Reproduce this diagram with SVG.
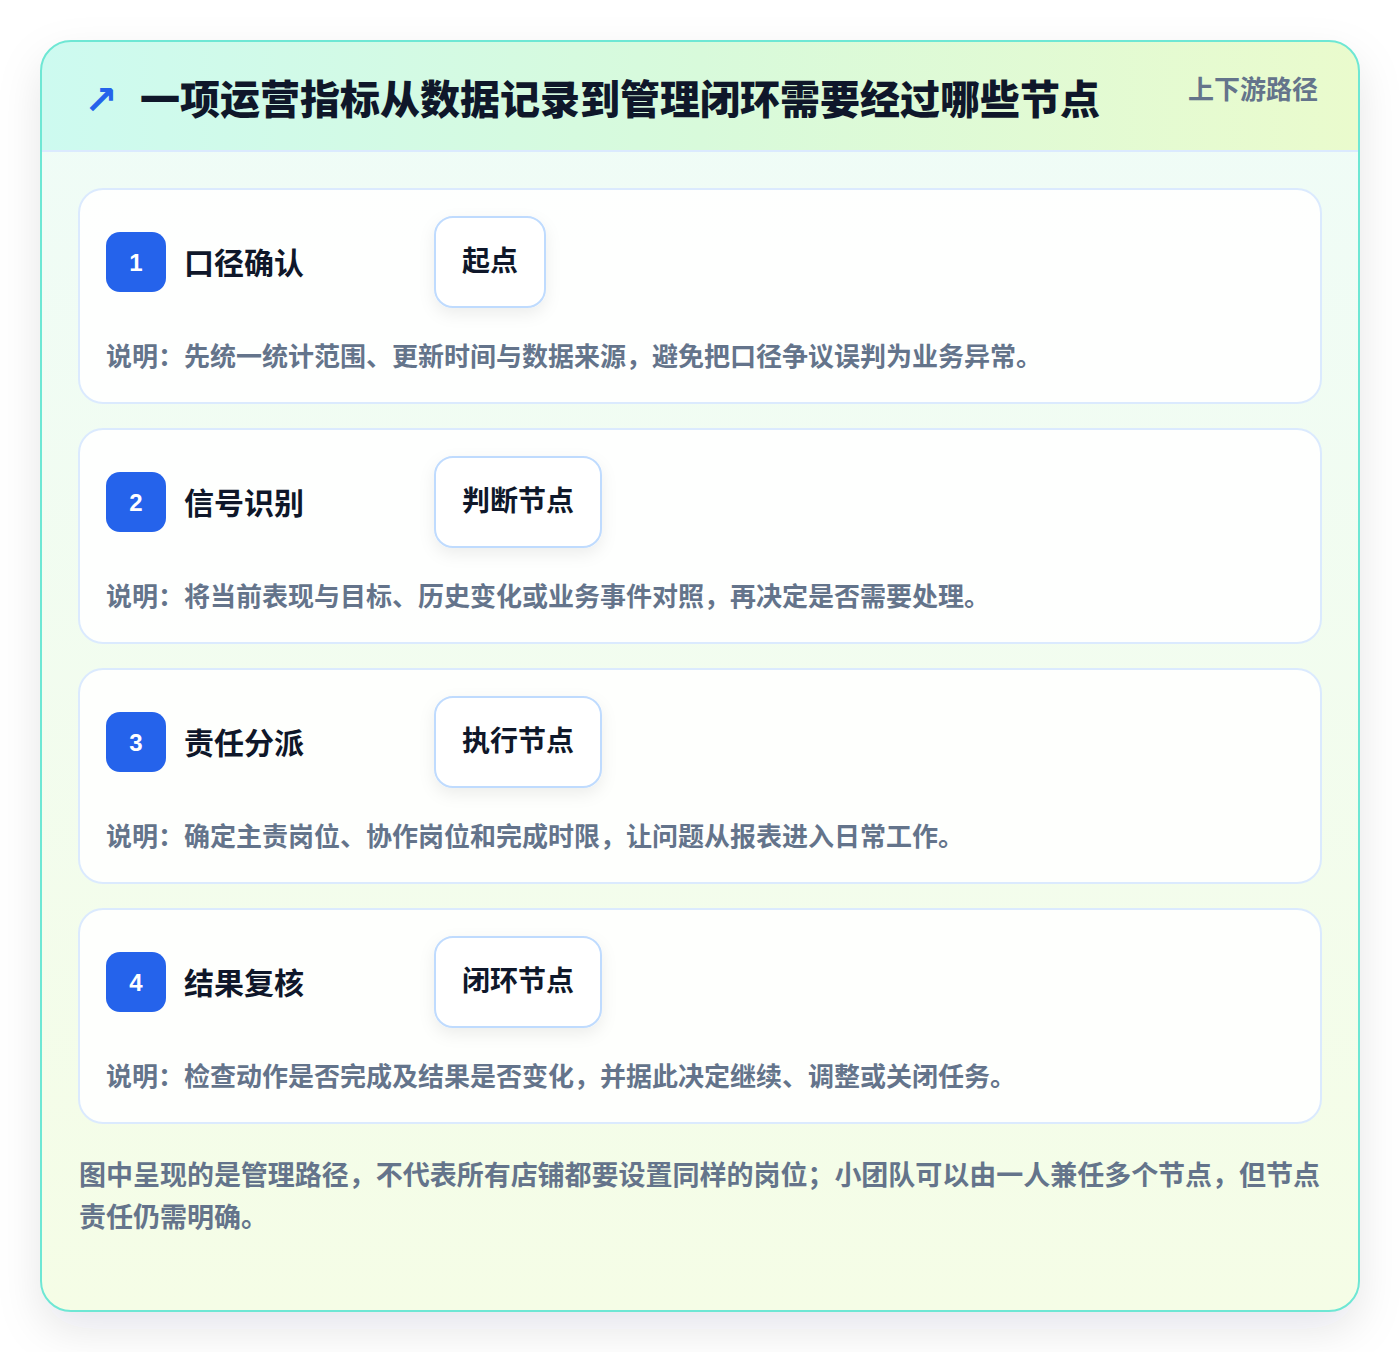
<svg xmlns="http://www.w3.org/2000/svg" width="1400" height="1352" viewBox="0 0 1400 1352">
<defs>
<linearGradient id="hdr" x1="0" y1="0" x2="1" y2="0">
<stop offset="0" stop-color="#cdfaf0"/>
<stop offset="0.5" stop-color="#d8fadb"/>
<stop offset="1" stop-color="#eafbcd"/>
</linearGradient>
<linearGradient id="body" x1="0" y1="0" x2="0" y2="1">
<stop offset="0" stop-color="#effcf8"/>
<stop offset="1" stop-color="#f5fde6"/>
</linearGradient>
<filter id="outerShadow" x="-10%" y="-10%" width="120%" height="125%">
<feDropShadow dx="0" dy="18" stdDeviation="22" flood-color="#0f172a" flood-opacity="0.10"/>
</filter>
<filter id="tagShadow" x="-30%" y="-30%" width="160%" height="180%">
<feDropShadow dx="0" dy="6" stdDeviation="8" flood-color="#0f172a" flood-opacity="0.07"/>
</filter>
<clipPath id="outerClip"><rect x="41" y="41" width="1318" height="1270" rx="30"/></clipPath>
<style>
.cjk{font-family:"Noto Sans CJK SC","Noto Sans",sans-serif;font-weight:700}
.title{font-size:40px;fill:#0f172a;font-weight:900}
.sub{font-size:26px;fill:#64748b}
.card{fill:#ffffff;fill-opacity:0.88;stroke:#dbeafe;stroke-width:2}
.badge{fill:#2563eb}
.num{font-family:"Liberation Sans","Noto Sans",sans-serif;font-weight:700;font-size:24px;fill:#ffffff}
.name{font-size:30px;fill:#0f172a}
.tag{fill:#ffffff;stroke:#bfdbfe;stroke-width:2}
.tagt{font-size:28px;fill:#0f172a}
.desc{font-size:26px;fill:#64748b}
.foot{font-size:27px;fill:#64748b}
</style>
</defs>
<rect x="0" y="0" width="1400" height="1352" fill="#ffffff"/>
<g id="frame">
<rect x="41" y="41" width="1318" height="1270" rx="30" fill="url(#body)" filter="url(#outerShadow)"/>
<g clip-path="url(#outerClip)">
<rect x="41" y="41" width="1318" height="110" fill="url(#hdr)"/>
<line x1="41" y1="151" x2="1359" y2="151" stroke="#dbeafe" stroke-width="2"/>
</g>
<rect x="41" y="41" width="1318" height="1270" rx="30" fill="none" stroke="#6ee7d4" stroke-width="2"/>
</g>
<g id="header">
<text x="84" y="114" font-family="DejaVu Sans, sans-serif" font-weight="700" font-size="40" fill="#2563eb">↗</text>
<text class="cjk title" x="140" y="114">一项运营指标从数据记录到管理闭环需要经过哪些节点</text>
<text class="cjk sub" x="1318" y="99" text-anchor="end">上下游路径</text>
</g>
<g id="node1">
<rect class="card" x="79" y="189" width="1242" height="214" rx="24"/>
<rect class="badge" x="106" y="232" width="60" height="60" rx="14"/>
<text class="num" x="136" y="271" text-anchor="middle">1</text>
<text class="cjk name" x="184" y="274">口径确认</text>
<rect class="tag" x="435" y="217" width="110" height="90" rx="18" filter="url(#tagShadow)"/>
<text class="cjk tagt" x="490" y="271" text-anchor="middle">起点</text>
<text class="cjk desc" x="106" y="366">说明：先统一统计范围、更新时间与数据来源，避免把口径争议误判为业务异常。</text>
</g>
<g id="node2">
<rect class="card" x="79" y="429" width="1242" height="214" rx="24"/>
<rect class="badge" x="106" y="472" width="60" height="60" rx="14"/>
<text class="num" x="136" y="511" text-anchor="middle">2</text>
<text class="cjk name" x="184" y="514">信号识别</text>
<rect class="tag" x="435" y="457" width="166" height="90" rx="18" filter="url(#tagShadow)"/>
<text class="cjk tagt" x="518" y="511" text-anchor="middle">判断节点</text>
<text class="cjk desc" x="106" y="606">说明：将当前表现与目标、历史变化或业务事件对照，再决定是否需要处理。</text>
</g>
<g id="node3">
<rect class="card" x="79" y="669" width="1242" height="214" rx="24"/>
<rect class="badge" x="106" y="712" width="60" height="60" rx="14"/>
<text class="num" x="136" y="751" text-anchor="middle">3</text>
<text class="cjk name" x="184" y="754">责任分派</text>
<rect class="tag" x="435" y="697" width="166" height="90" rx="18" filter="url(#tagShadow)"/>
<text class="cjk tagt" x="518" y="751" text-anchor="middle">执行节点</text>
<text class="cjk desc" x="106" y="846">说明：确定主责岗位、协作岗位和完成时限，让问题从报表进入日常工作。</text>
</g>
<g id="node4">
<rect class="card" x="79" y="909" width="1242" height="214" rx="24"/>
<rect class="badge" x="106" y="952" width="60" height="60" rx="14"/>
<text class="num" x="136" y="991" text-anchor="middle">4</text>
<text class="cjk name" x="184" y="994">结果复核</text>
<rect class="tag" x="435" y="937" width="166" height="90" rx="18" filter="url(#tagShadow)"/>
<text class="cjk tagt" x="518" y="991" text-anchor="middle">闭环节点</text>
<text class="cjk desc" x="106" y="1086">说明：检查动作是否完成及结果是否变化，并据此决定继续、调整或关闭任务。</text>
</g>
<g id="connectors"></g>
<g id="footer">
<text class="cjk foot" x="79" y="1185" textLength="1241" lengthAdjust="spacing">图中呈现的是管理路径，不代表所有店铺都要设置同样的岗位；小团队可以由一人兼任多个节点，但节点</text>
<text class="cjk foot" x="79" y="1227">责任仍需明确。</text>
</g>
</svg>
